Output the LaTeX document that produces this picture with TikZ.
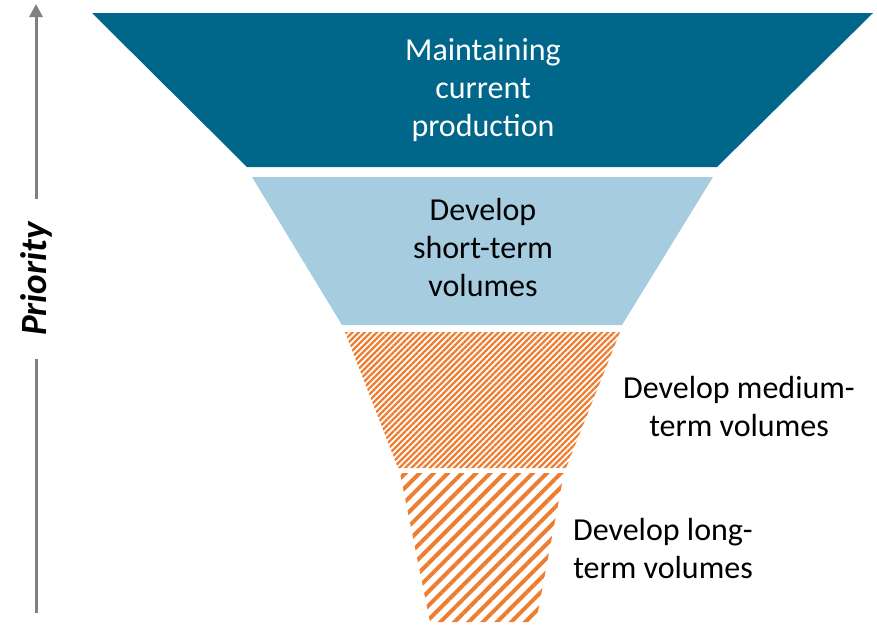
\documentclass[tikz,border=0pt]{standalone}
\usepackage{fontspec}
\setmainfont{Carlito}
\usepackage{xcolor}
\usepackage{tikz}
\usetikzlibrary{arrows.meta, patterns.meta}

\definecolor{darkteal}{RGB}{0,103,139}
\definecolor{lightblue}{RGB}{165,204,223}
\definecolor{hatchorange}{RGB}{237,125,49}
\definecolor{axisgray}{RGB}{128,128,128}

\begin{document}
\begin{tikzpicture}[x=1pt, y=-1pt, >=Stealth]
    \tikzstyle{tiertext} = [align=center, inner sep=0pt, font=\fontsize{32}{38}\selectfont]
    \tikzstyle{finehatch} = [pattern={Lines[angle=45, distance=4.3pt, line width=2.3pt]}, pattern color=hatchorange]
    \tikzstyle{widehatch} = [pattern={Lines[angle=45, distance=10pt, line width=4pt]}, pattern color=hatchorange]

    \useasboundingbox (0,0) rectangle (877,624);

    % Funnel tiers (top to bottom)
    \fill[darkteal] (92,13) -- (873,13) -- (717,167) -- (247,167) -- cycle;
    \fill[lightblue] (252,177) -- (713,177) -- (622,325) -- (342,325) -- cycle;
    \fill[finehatch] (345,332) -- (620,332) -- (566,468) -- (398,468) -- cycle;
    \fill[widehatch] (400,473) -- (564,473) -- (536,622) -- (430,622) -- cycle;

    \node (prod) [tiertext, text=white] at (483,90) {Maintaining\\current\\production};
    \node (short) [tiertext] at (483,248) {Develop\\short-term\\volumes};
    \node (medium) [tiertext] at (739,406) {Develop medium-\\term volumes};
    \node (long) [tiertext] at (663,548) {Develop long-\\term volumes};

    % Priority axis
    \coordinate (axistop) at (36,4);
    \coordinate (axisbot) at (36,613);
    \node (prio) [rotate=90, inner xsep=23pt, font=\fontsize{37}{44}\selectfont\bfseries\itshape] at (36,279) {Priority};
    \draw[axisgray, line width=3pt, -{Triangle[length=13pt, width=13pt]}] (prio.east) -- (axistop);
    \draw[axisgray, line width=3pt] (prio.west) -- (axisbot);
\end{tikzpicture}
\end{document}
